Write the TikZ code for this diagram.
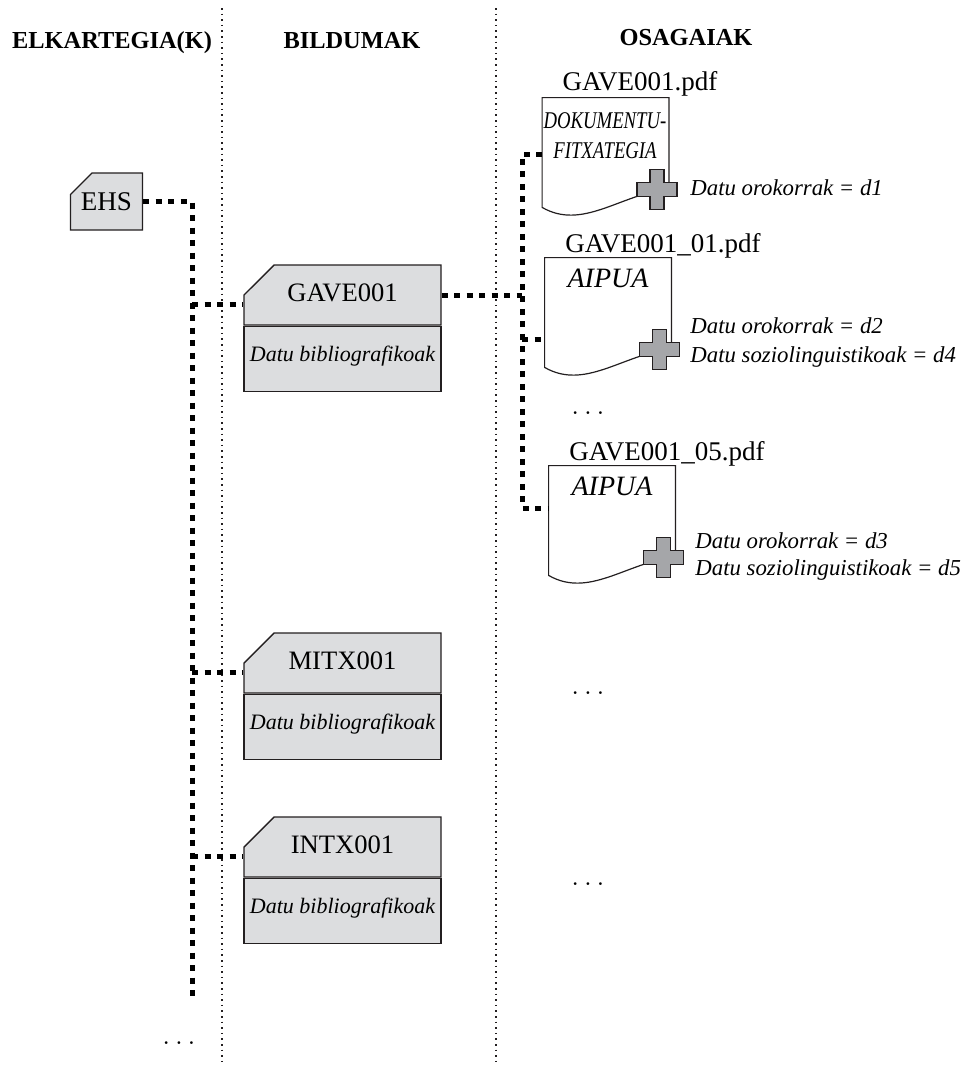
\documentclass[tikz,border=0pt]{standalone}
\usepackage{fontspec}
\setmainfont{Liberation Serif}
\newfontfamily\condensed[FakeStretch=0.78]{Liberation Serif}
\usetikzlibrary{positioning,shapes.misc}

\definecolor{boxgray}{HTML}{DCDDDF}
\definecolor{plusgray}{HTML}{A5A6A9}
\definecolor{inkline}{HTML}{231F20}

\tikzstyle{colhead} = [font=\fontsize{12.2}{14}\selectfont\bfseries, anchor=base, inner sep=0pt]
\tikzstyle{colsep} = [line width=0.75pt, dash pattern=on 0.75pt off 2.05pt, inkline]
\tikzstyle{link} = [line width=2.5pt, dash pattern=on 3pt off 3.25pt, black]
\tikzstyle{elkbox} = [
    chamfered rectangle,
    chamfered rectangle corners=north west,
    chamfered rectangle xsep=6pt,
    chamfered rectangle ysep=5.5pt,
    draw=inkline, line width=0.7pt,
    fill=boxgray,
    minimum width=31.5pt, minimum height=28.5pt,
    inner sep=0pt, text height=9.5pt, text depth=1pt,
    font=\fontsize{13.5}{16}\selectfont
    ]
\tikzstyle{bibhead} = [
    chamfered rectangle,
    chamfered rectangle corners=north west,
    chamfered rectangle xsep=19.5pt,
    chamfered rectangle ysep=12pt,
    draw=inkline, line width=0.7pt,
    fill=boxgray,
    minimum width=98.5pt, minimum height=30pt,
    inner sep=0pt, text height=6pt, text depth=0pt,
    font=\fontsize{13.3}{16}\selectfont
    ]
\tikzstyle{bibbody} = [
    rectangle,
    draw=inkline, line width=0.7pt,
    fill=boxgray,
    minimum width=98.5pt, minimum height=32.5pt,
    inner sep=0pt, text height=8pt, text depth=5pt,
    font=\fontsize{11}{13}\selectfont\itshape
    ]
\tikzstyle{doc} = [rectangle, minimum width=63pt, minimum height=54.5pt, inner sep=0pt]
\tikzstyle{docline} = [draw=inkline, line width=0.6pt, fill=white]
\tikzstyle{fname} = [font=\fontsize{13.5}{16}\selectfont, anchor=base, inner sep=0pt]
\tikzstyle{doctype} = [font=\fontsize{14}{16}\selectfont\itshape, anchor=base, inner sep=0pt]
\tikzstyle{metatext} = [font=\fontsize{11.4}{14}\selectfont\itshape, anchor=base west, inner sep=0pt]
\tikzstyle{plusmark} = [draw=inkline, line width=0.6pt, fill=plusgray]
\tikzstyle{more} = [font=\fontsize{15}{16}\selectfont, anchor=base, inner sep=0pt]

\newcommand{\docshape}[1]{\draw[docline] (#1.south west) -- (#1.north west) -- (#1.north east) -- ([yshift=9.5pt]#1.south east) .. controls +(-25pt,-3.5pt) and +(20pt,-11.5pt) .. (#1.south west) -- cycle;}
\newcommand{\plusat}[1]{\draw[plusmark] (#1) ++(-3.5pt,10pt) -- ++(7pt,0pt) -- ++(0pt,-6.5pt) -- ++(6.5pt,0pt) -- ++(0pt,-7pt) -- ++(-6.5pt,0pt) -- ++(0pt,-6.5pt) -- ++(-7pt,0pt) -- ++(0pt,6.5pt) -- ++(-6.5pt,0pt) -- ++(0pt,7pt) -- ++(6.5pt,0pt) -- cycle;}

\begin{document}
\begin{tikzpicture}[x=0.5pt, y=-0.5pt]
    \useasboundingbox (0,0) rectangle (963,1067);

    % columns
    \draw[colsep] (222,8) -- (222,1063);
    \draw[colsep] (496,8) -- (496,1063);

    \node (hElk) [colhead] at (112,48) {ELKARTEGIA(K)};
    \node (hBil) [colhead] at (352,48) {BILDUMAK};
    \node (hOsa) [colhead] at (686,45) {OSAGAIAK};

    % elkartegia
    \node (ehs) [elkbox] at (106.5,201.5) {EHS};

    % bildumak
    \node (gave) [bibhead] at (342.5,295) {GAVE001};
    \node (gavedat) [bibbody, below=0pt of gave] {Datu bibliografikoak};

    \node (mitx) [bibhead] at (342.5,663) {MITX001};
    \node (mitxdat) [bibbody, below=0pt of mitx] {Datu bibliografikoak};

    \node (intx) [bibhead] at (342.5,847) {INTX001};
    \node (intxdat) [bibbody, below=0pt of intx] {Datu bibliografikoak};

    % osagaiak
    \node (d1) [doc] at (605.5,152.5) {};
    \docshape{d1}
    \node (d1name) [fname] at (640,90) {GAVE001.pdf};
    \node (d1type) [doctype, font=\fontsize{12}{15}\condensed\itshape, align=center, anchor=north] at (605,112) {DOKUMENTU-\\FITXATEGIA};
    \coordinate (p1) at ([shift={(-6pt,9pt)}]d1.south east);
    \plusat{p1}
    \node (m1) [metatext] at (690,195) {Datu orokorrak = d1};

    \node (d2) [doc] at (608,312.5) {};
    \docshape{d2}
    \node (d2name) [fname] at (663,252) {GAVE001\_01.pdf};
    \node (d2type) [doctype] at (608,287) {AIPUA};
    \coordinate (p2) at ([shift={(-6pt,9pt)}]d2.south east);
    \plusat{p2}
    \node (m2) [metatext] at (690,333) {Datu orokorrak = d2};
    \node (m2b) [metatext] at (690,362) {Datu soziolinguistikoak = d4};

    \node (dotsA) [more] at (588,414) {$\ldots$};

    \node (d3) [doc] at (612,520.5) {};
    \docshape{d3}
    \node (d3name) [fname] at (667,460) {GAVE001\_05.pdf};
    \node (d3type) [doctype] at (612,495) {AIPUA};
    \coordinate (p3) at ([shift={(-6pt,9pt)}]d3.south east);
    \plusat{p3}
    \node (m3) [metatext] at (695,548) {Datu orokorrak = d3};
    \node (m3b) [metatext] at (695,575) {Datu soziolinguistikoak = d5};

    \node (dotsB) [more] at (588,694) {$\ldots$};
    \node (dotsC) [more] at (588,885) {$\ldots$};
    \node (dotsD) [more] at (179,1044) {$\ldots$};

    % Lines
    \coordinate (trunkend) at (192,999);
    \draw[link] (ehs.east) -| (trunkend);
    \coordinate (gavein) at ([yshift=-4.75pt]gave.west);
    \coordinate (mitxin) at ([yshift=-4.75pt]mitx.west);
    \coordinate (intxin) at ([yshift=-4.75pt]intx.west);
    \draw[link] (trunkend |- gavein) -- (gavein);
    \draw[link] (trunkend |- mitxin) -- (mitxin);
    \draw[link] (trunkend |- intxin) -- (intxin);

    \coordinate (spine) at (522,508);
    \coordinate (d1in) at ([yshift=-0.75pt]d1.west);
    \coordinate (d2in) at ([yshift=-13.25pt]d2.west);
    \coordinate (d3in) at ([yshift=6.25pt]d3.west);
    \draw[link] (gave.east) -- (gave.east -| spine);
    \draw[link] (d1in) -| (spine) -- (d3in);
    \draw[link] (d2in -| spine) -- (d2in);
\end{tikzpicture}
\end{document}
